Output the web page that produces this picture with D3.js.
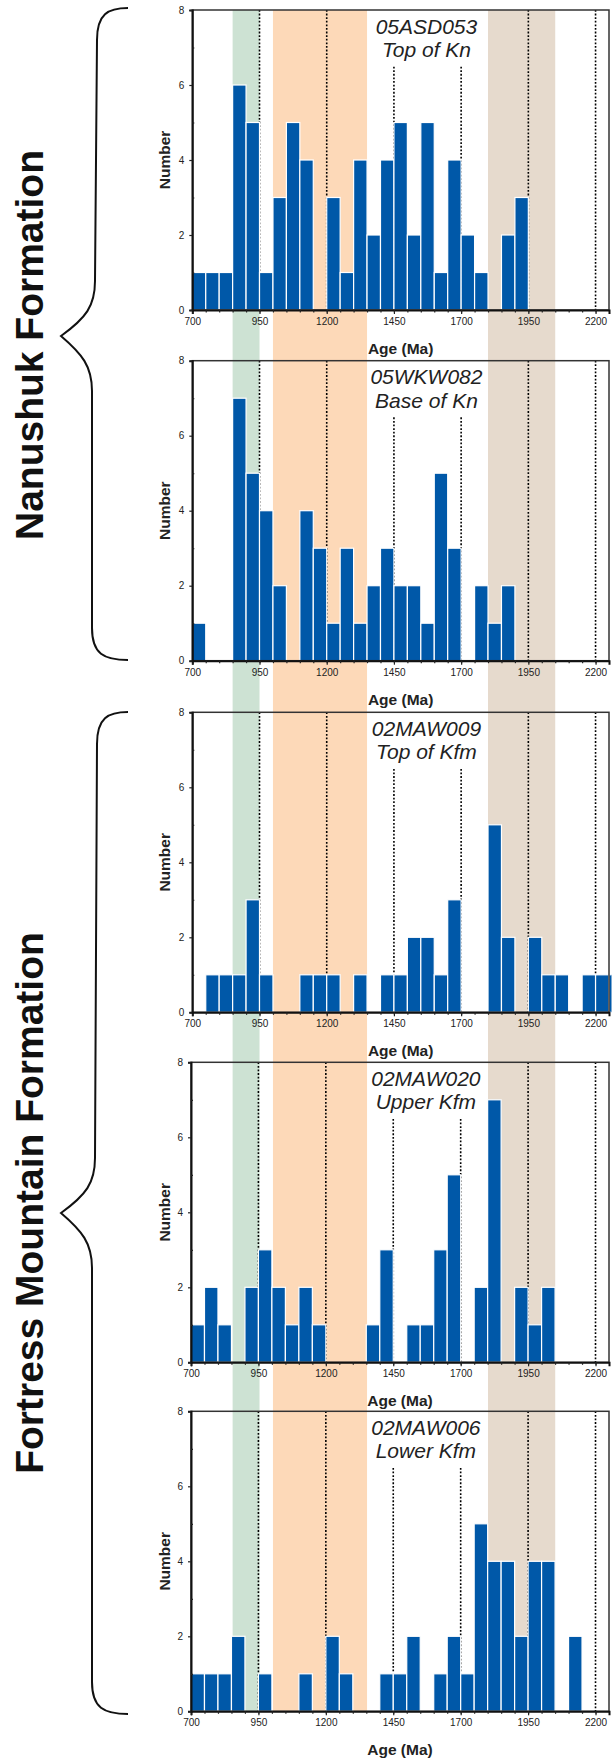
<!DOCTYPE html>
<html>
<head>
<meta charset="utf-8">
<script src="https://cdn.jsdelivr.net/npm/d3@7"></script>
<style>
  body { margin: 0; background: #fff; }
  svg { display: block; font-family: "Liberation Sans", Arial, sans-serif; }
</style>
</head>
<body>
<svg id="chart" width="616" height="1764"></svg>
<script>
// detrital zircon age histograms, 50 Ma bins from 700 Ma
const binStart = 700, binWidth = 50;
const sampleIds = ["05ASD053", "05WKW082", "02MAW009", "02MAW020", "02MAW006"];
const sampleNotes = ["Top of Kn", "Base of Kn", "Top of Kfm", "Upper Kfm", "Lower Kfm"];
const counts05ASD053 = [1,1,1,6,5,1,3,5,4,0,3,1,4,2,4,5,2,5,1,4,2,1,0,2,3];
const counts05WKW082 = [1,0,0,7,5,4,2,0,4,3,1,3,1,2,3,2,2,1,5,3,0,2,1,2];
const counts02MAW009 = [0,1,1,1,3,1,0,0,1,1,1,0,1,0,1,1,2,2,1,3,0,0,5,2,0,2,1,1,0,1,1,1];
const counts02MAW020 = [1,2,1,0,2,3,2,1,2,1,0,0,0,1,3,0,1,1,3,5,0,2,7,0,2,1,2];
const counts02MAW006 = [1,1,1,2,0,1,0,0,1,0,2,1,0,0,1,1,2,0,1,2,1,5,4,4,2,4,4,0,2];
const allCounts = [counts05ASD053, counts05WKW082, counts02MAW009, counts02MAW020, counts02MAW006];

const xTicks = [700, 950, 1200, 1450, 1700, 1950, 2200];
const yTicks = [0, 2, 4, 6, 8];
const refAges = [950, 1200, 1450, 1700, 1950, 2200];
const shortRefAges = [1450, 1700];   // these start below the sample label
const bandRanges = [[850, 950], [1000, 1350], [1800, 2050]];
const bandColors = ["#cde2d3", "#fdd9b8", "#e6dacd"];
const formations = ["Nanushuk Formation", "Fortress Mountain Formation"];

const svg = d3.select("#chart");
const tops = [10, 360.7, 712.3, 1062.3, 1411.3];
const lefts = [192.3, 192.3, 192.3, 191, 191];
const right = 609;
const ph = 300;

const y = d3.scaleLinear().domain([0, 8]).range([ph, 0]);
const x0 = d3.scaleLinear().domain([700, 2250]).range([lefts[0], right]);

// background age bands, one column through all panels
svg.append("g").selectAll("rect")
  .data(bandRanges)
  .join("rect")
  .attr("x", d => x0(d[0]))
  .attr("width", d => x0(d[1]) - x0(d[0]))
  .attr("y", tops[0])
  .attr("height", tops[4] + ph - tops[0])
  .attr("fill", (d, i) => bandColors[i]);

allCounts.forEach((counts, p) => {
  const x = d3.scaleLinear().domain([700, 2250]).range([lefts[p], right]);
  const g = svg.append("g").attr("transform", `translate(0,${tops[p]})`);
  const bins = counts.map((c, i) => ({x0: binStart + i * binWidth, n: c})).filter(d => d.n > 0);

  // dotted reference lines
  g.selectAll("line.ref")
    .data(refAges)
    .join("line")
    .attr("class", "ref")
    .attr("x1", d => x(d)).attr("x2", d => x(d))
    .attr("y1", d => shortRefAges.includes(d) ? y(6.49) : 0)
    .attr("y2", ph)
    .attr("stroke", "#000")
    .attr("stroke-width", 1.6)
    .attr("stroke-dasharray", "1.8,1.8");

  const clipId = "clip" + p;
  g.append("clipPath").attr("id", clipId)
    .append("rect").attr("x", lefts[p]).attr("y", -2).attr("width", right - lefts[p] + 2.5).attr("height", ph + 4);

  g.append("g").attr("clip-path", `url(#${clipId})`)
    .selectAll("rect")
    .data(bins)
    .join("rect")
    .attr("x", d => x(d.x0))
    .attr("width", d => x(d.x0 + binWidth) - x(d.x0))
    .attr("y", d => y(d.n))
    .attr("height", d => ph - y(d.n))
    .attr("fill", "#0058a8")
    .attr("stroke", "#fff")
    .attr("stroke-width", 1.2);

  // frame
  g.append("rect")
    .attr("x", lefts[p]).attr("y", 0)
    .attr("width", right - lefts[p]).attr("height", ph)
    .attr("fill", "none").attr("stroke", "#333").attr("stroke-width", 1.5);

  // axes
  const xa = g.append("g").attr("transform", `translate(0,${ph})`)
    .call(d3.axisBottom(x).tickValues(xTicks).tickSize(4).tickPadding(4).tickFormat(d3.format("d")));
  g.append("g").attr("transform", `translate(0,${ph})`)
    .call(d3.axisBottom(x).tickValues(d3.range(750, 2250, 50)).tickSize(2.5).tickFormat(""))
    .call(a => a.select(".domain").remove());
  const ya = g.append("g").attr("transform", `translate(${lefts[p]},0)`)
    .call(d3.axisLeft(y).tickValues(yTicks).tickSize(3).tickPadding(5));
  g.append("g").attr("transform", `translate(${lefts[p]},0)`)
    .call(d3.axisRight(y).tickValues([1, 3, 5, 7]).tickSize(2).tickFormat(""))
    .call(a => a.select(".domain").remove());
  [xa, ya].forEach(a => {
    a.select(".domain").attr("stroke", "#111").attr("stroke-width", 2);
    a.selectAll("text").attr("font-size", 10).attr("fill", "#222").attr("font-family", "Liberation Sans, Arial, sans-serif");
  });
  g.selectAll(".tick line").attr("stroke", "#222").attr("stroke-width", 1.2);

  // axis titles
  g.append("text")
    .attr("transform", `translate(170,${ph / 2}) rotate(-90)`)
    .attr("text-anchor", "middle")
    .attr("font-size", 15.5).attr("font-weight", "bold").attr("fill", "#222")
    .text("Number");
  g.append("text")
    .attr("x", (lefts[p] + right) / 2).attr("y", ph + 44)
    .attr("text-anchor", "middle")
    .attr("font-size", 15.5).attr("font-weight", "bold").attr("fill", "#222")
    .text("Age (Ma)");

  // sample label
  const lx = x(1571);
  g.append("text").attr("x", lx).attr("y", 23.5)
    .attr("text-anchor", "middle").attr("font-size", 21).attr("font-style", "italic").attr("fill", "#222")
    .text(sampleIds[p]);
  g.append("text").attr("x", lx).attr("y", 47)
    .attr("text-anchor", "middle").attr("font-size", 21).attr("font-style", "italic").attr("fill", "#222")
    .text(sampleNotes[p]);
});

// braces and formation names
function brace(y0, y1, ym) {
  return `M128,${y0} C108,${y0} 97,${y0 + 6} 97,${y0 + 32}`
    + ` L95,${ym - 55} C95,${ym - 30} 86,${ym - 18} 61,${ym}`
    + ` C82,${ym + 18} 92,${ym + 30} 92,${ym + 55}`
    + ` L92,${y1 - 32} C92,${y1 - 6} 104,${y1} 128,${y1}`;
}
const braceSpans = [[8, 660, 336], [712, 1714, 1213]];
const labelCenters = [345, 1203];
braceSpans.forEach((b, i) => {
  svg.append("path").attr("d", brace(b[0], b[1], b[2]))
    .attr("fill", "none").attr("stroke", "#111").attr("stroke-width", 2);
  svg.append("text")
    .attr("transform", `translate(43,${labelCenters[i]}) rotate(-90)`)
    .attr("text-anchor", "middle")
    .attr("font-size", 39).attr("font-weight", "bold").attr("fill", "#111")
    .text(formations[i]);
});
</script>
</body>
</html>
